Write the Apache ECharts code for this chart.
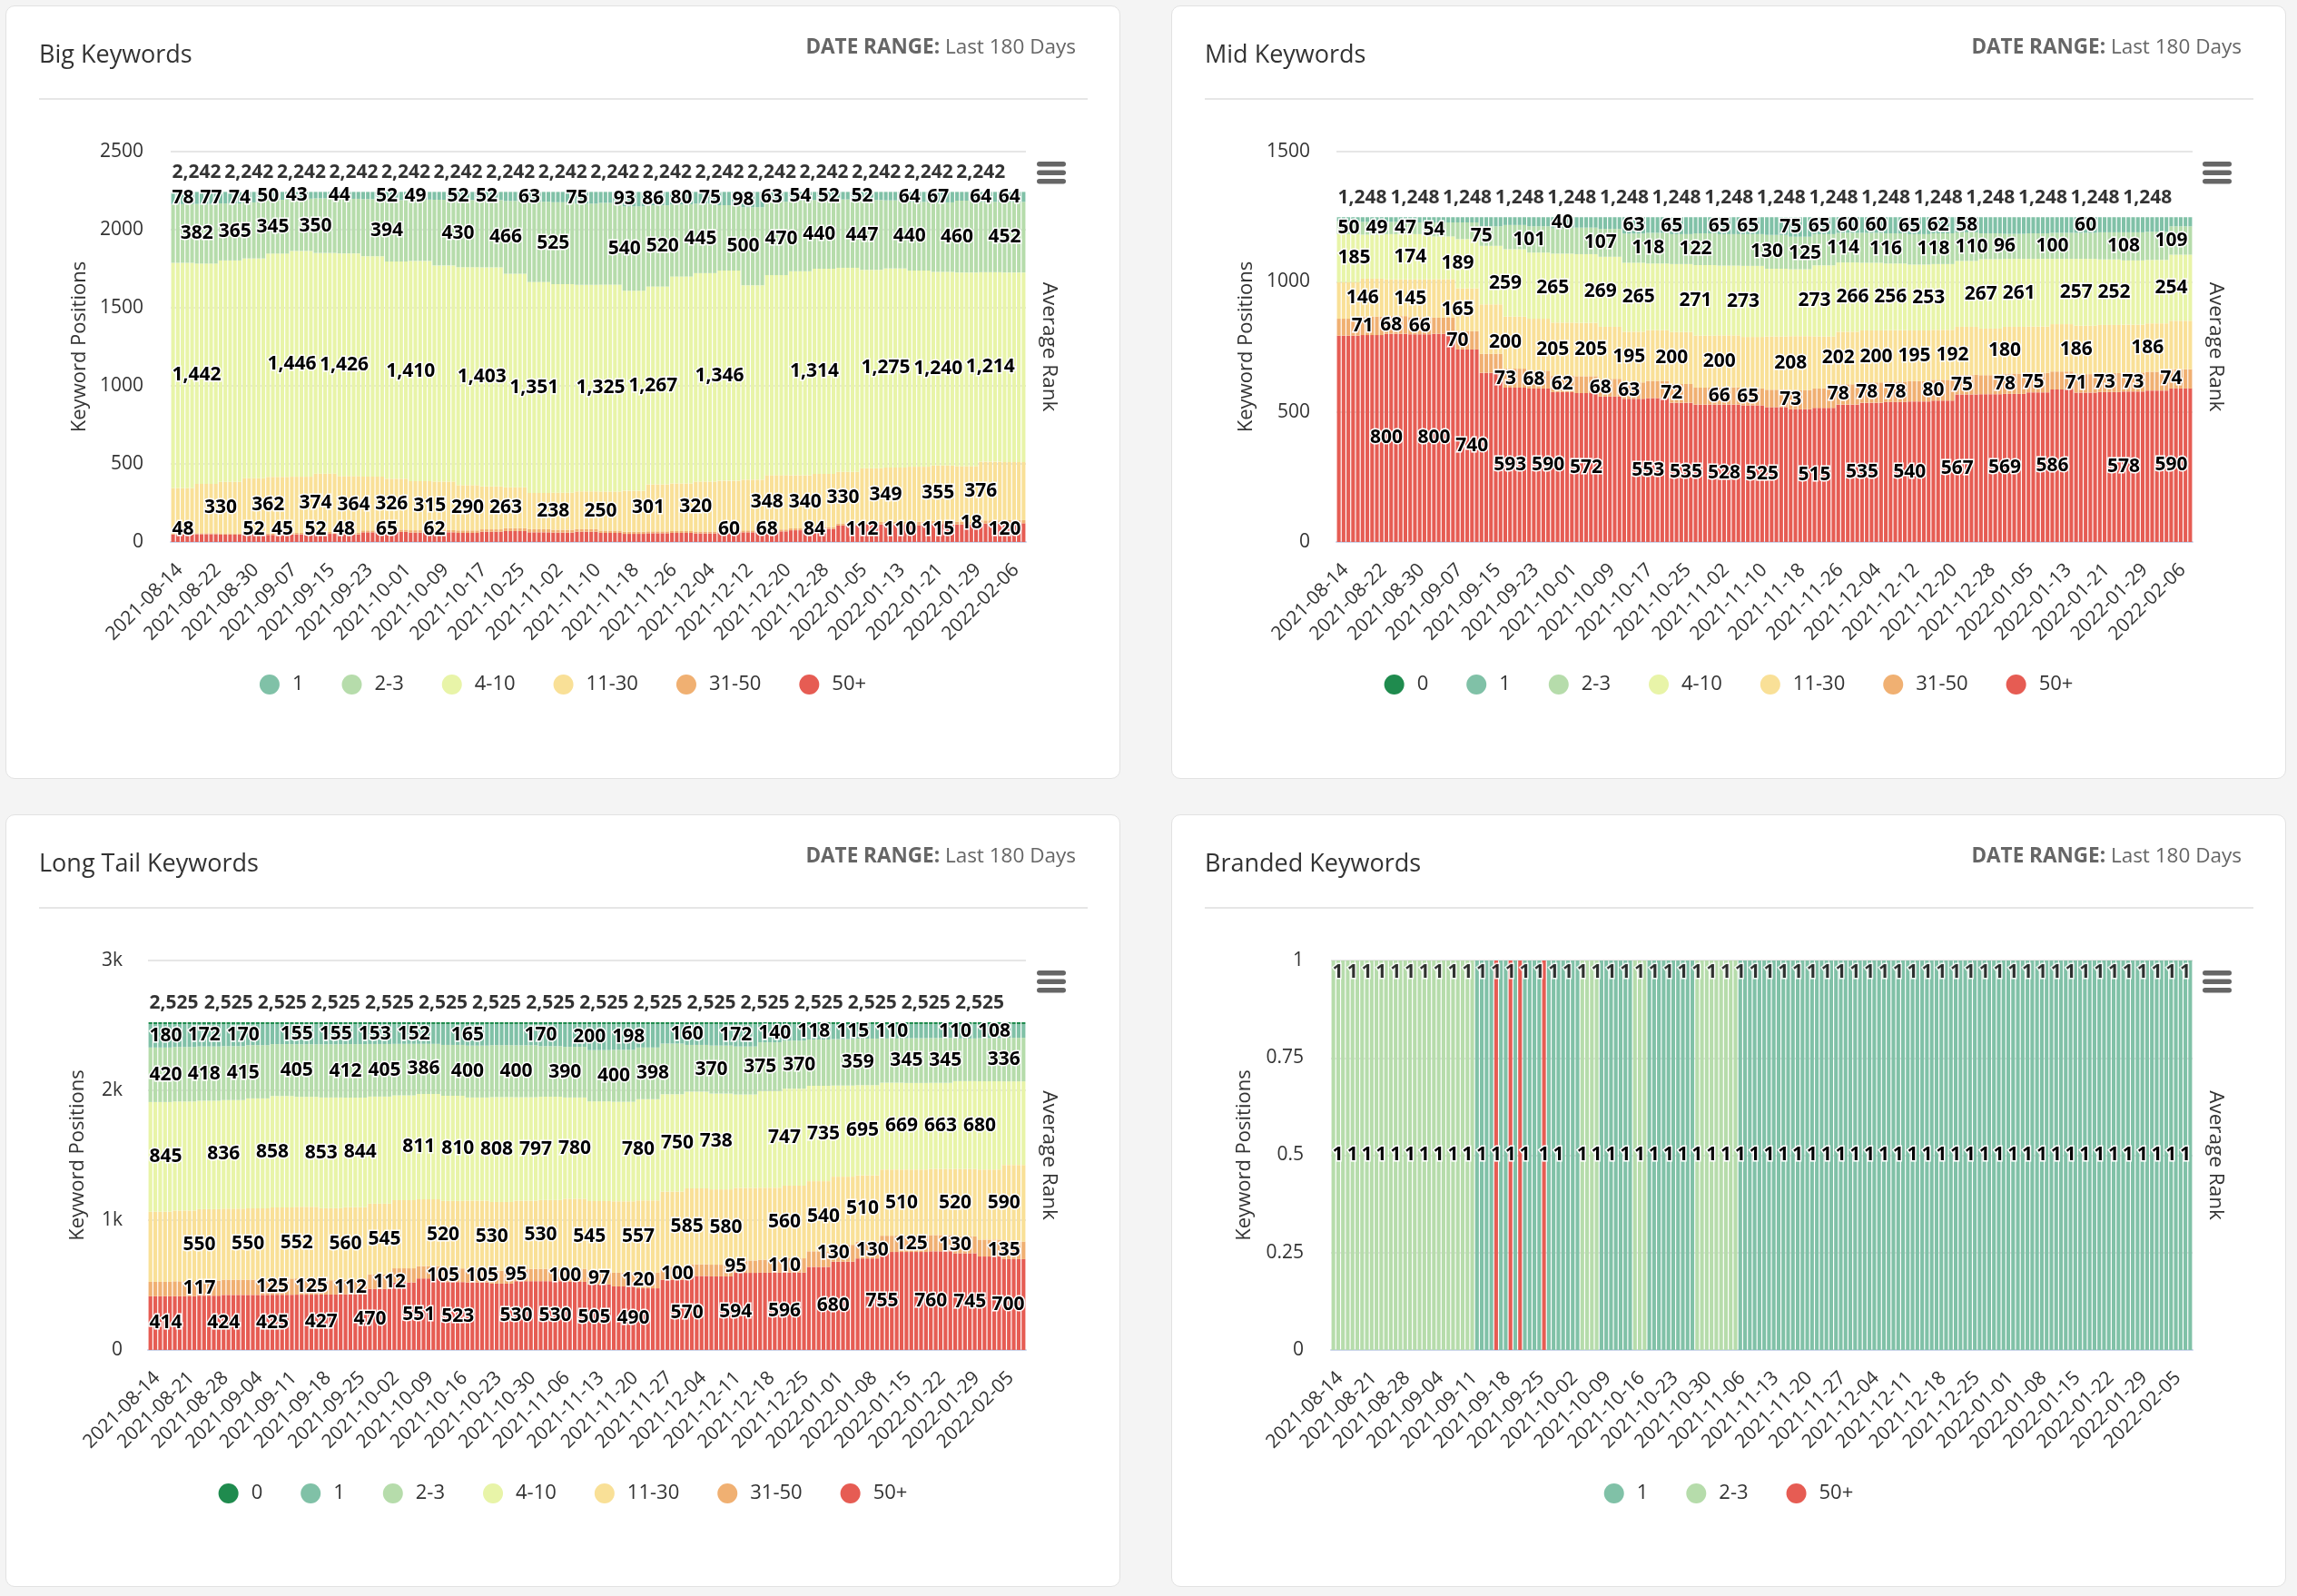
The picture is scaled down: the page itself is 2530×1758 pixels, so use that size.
<!DOCTYPE html>
<html><head><meta charset="utf-8">
<script src="https://cdn.jsdelivr.net/npm/echarts@6/dist/echarts.min.js"></script>
<style>
html,body{margin:0;padding:0;background:#f4f4f4;width:2530px;height:1758px;overflow:hidden;font-family:'Open Sans',sans-serif;}
.panel{position:absolute;background:#fff;border:1.5px solid #e2e2e2;border-radius:10px;box-sizing:border-box;}
.chart{position:absolute;}
</style></head><body>
<div class="panel" style="left:6px;top:6px;width:1228px;height:852px"></div>
<div class="panel" style="left:1290px;top:6px;width:1228px;height:852px"></div>
<div class="panel" style="left:6px;top:897px;width:1228px;height:851px"></div>
<div class="panel" style="left:1290px;top:897px;width:1228px;height:851px"></div>
<div class="chart" id="c1" style="left:6px;top:6px;width:1228px;height:852px"></div>
<div class="chart" id="c2" style="left:1290px;top:6px;width:1228px;height:852px"></div>
<div class="chart" id="c3" style="left:6px;top:897px;width:1228px;height:851px"></div>
<div class="chart" id="c4" style="left:1290px;top:897px;width:1228px;height:851px"></div>
<script>
const categories = [
"2021-08-14","2021-08-15","2021-08-16","2021-08-17","2021-08-18","2021-08-19","2021-08-20","2021-08-21","2021-08-22","2021-08-23","2021-08-24","2021-08-25","2021-08-26","2021-08-27","2021-08-28","2021-08-29","2021-08-30","2021-08-31",
"2021-09-01","2021-09-02","2021-09-03","2021-09-04","2021-09-05","2021-09-06","2021-09-07","2021-09-08","2021-09-09","2021-09-10","2021-09-11","2021-09-12","2021-09-13","2021-09-14","2021-09-15","2021-09-16","2021-09-17","2021-09-18","2021-09-19","2021-09-20","2021-09-21","2021-09-22","2021-09-23","2021-09-24","2021-09-25","2021-09-26","2021-09-27","2021-09-28","2021-09-29","2021-09-30",
"2021-10-01","2021-10-02","2021-10-03","2021-10-04","2021-10-05","2021-10-06","2021-10-07","2021-10-08","2021-10-09","2021-10-10","2021-10-11","2021-10-12","2021-10-13","2021-10-14","2021-10-15","2021-10-16","2021-10-17","2021-10-18","2021-10-19","2021-10-20","2021-10-21","2021-10-22","2021-10-23","2021-10-24","2021-10-25","2021-10-26","2021-10-27","2021-10-28","2021-10-29","2021-10-30","2021-10-31",
"2021-11-01","2021-11-02","2021-11-03","2021-11-04","2021-11-05","2021-11-06","2021-11-07","2021-11-08","2021-11-09","2021-11-10","2021-11-11","2021-11-12","2021-11-13","2021-11-14","2021-11-15","2021-11-16","2021-11-17","2021-11-18","2021-11-19","2021-11-20","2021-11-21","2021-11-22","2021-11-23","2021-11-24","2021-11-25","2021-11-26","2021-11-27","2021-11-28","2021-11-29","2021-11-30",
"2021-12-01","2021-12-02","2021-12-03","2021-12-04","2021-12-05","2021-12-06","2021-12-07","2021-12-08","2021-12-09","2021-12-10","2021-12-11","2021-12-12","2021-12-13","2021-12-14","2021-12-15","2021-12-16","2021-12-17","2021-12-18","2021-12-19","2021-12-20","2021-12-21","2021-12-22","2021-12-23","2021-12-24","2021-12-25","2021-12-26","2021-12-27","2021-12-28","2021-12-29","2021-12-30","2021-12-31",
"2022-01-01","2022-01-02","2022-01-03","2022-01-04","2022-01-05","2022-01-06","2022-01-07","2022-01-08","2022-01-09","2022-01-10","2022-01-11","2022-01-12","2022-01-13","2022-01-14","2022-01-15","2022-01-16","2022-01-17","2022-01-18","2022-01-19","2022-01-20","2022-01-21","2022-01-22","2022-01-23","2022-01-24","2022-01-25","2022-01-26","2022-01-27","2022-01-28","2022-01-29","2022-01-30","2022-01-31",
"2022-02-01","2022-02-02","2022-02-03","2022-02-04","2022-02-05","2022-02-06","2022-02-07","2022-02-08","2022-02-09"];

/* ---------- Big Keywords ---------- */
const bigOne = [78,78,78,78,78,77,77,77,77,77,74,74,74,74,74,67,67,67,67,67,50,50,50,50,50,43,43,43,43,43,41,41,41,41,41,44,44,44,44,44,46,46,46,46,46,52,52,52,52,52,49,49,49,49,49,50,50,50,50,50,52,52,52,52,52,52,52,52,52,52,58,58,58,58,58,63,63,63,63,63,66,66,66,66,66,75,75,75,75,75,70,70,70,70,70,93,93,93,93,93,86,86,86,86,86,80,80,80,80,80,75,75,75,75,75,85,85,85,85,85,98,98,98,98,98,63,63,63,63,63,54,54,54,54,54,52,52,52,52,52,48,48,48,48,48,52,52,52,52,52,54,54,54,54,54,64,64,64,64,64,67,67,67,67,67,56,56,56,56,56,64,64,64,64,64,64,64,64,64,64];
const bigTwo = [376,376,376,376,376,382,382,382,382,382,365,365,365,365,365,359,359,359,359,359,345,345,345,345,345,335,335,335,335,335,350,350,350,350,350,350,350,350,350,350,366,366,366,366,366,394,394,394,394,394,393,393,393,393,393,421,421,421,421,421,430,430,430,430,430,431,431,431,431,431,466,466,466,466,466,514,514,514,514,514,525,525,525,525,525,520,520,520,520,520,524,524,524,524,524,540,540,540,540,540,520,520,520,520,520,462,462,462,462,462,445,445,445,445,445,419,419,419,419,419,500,500,500,500,500,470,470,470,470,470,454,454,454,454,454,440,440,440,440,440,438,438,438,438,438,447,447,447,447,447,436,436,436,436,436,440,440,440,440,440,445,445,445,445,445,460,460,460,460,460,450,450,450,450,450,452,452,452,452,452];
const bigFour = [1442,1442,1442,1442,1442,1411,1411,1411,1411,1411,1418,1418,1418,1418,1418,1407,1407,1407,1407,1407,1430,1430,1430,1430,1430,1446,1446,1446,1446,1446,1413,1413,1413,1413,1413,1426,1426,1426,1426,1426,1411,1411,1411,1411,1411,1391,1391,1391,1391,1391,1410,1410,1410,1410,1410,1384,1384,1384,1384,1384,1396,1396,1396,1396,1396,1403,1403,1403,1403,1403,1367,1367,1367,1367,1367,1351,1351,1351,1351,1351,1335,1335,1335,1335,1335,1323,1323,1323,1323,1323,1325,1325,1325,1325,1325,1281,1281,1281,1281,1281,1267,1267,1267,1267,1267,1325,1325,1325,1325,1325,1335,1335,1335,1335,1335,1346,1346,1346,1346,1346,1245,1245,1245,1245,1245,1281,1281,1281,1281,1281,1307,1307,1307,1307,1307,1314,1314,1314,1314,1314,1307,1307,1307,1307,1307,1270,1270,1270,1270,1270,1275,1275,1275,1275,1275,1256,1256,1256,1256,1256,1240,1240,1240,1240,1240,1240,1240,1240,1240,1240,1214,1214,1214,1214,1214,1214,1214,1214,1214,1214];
const bigEleven = [294,294,294,294,294,316,316,316,316,316,330,330,330,330,330,347,347,347,347,347,362,362,362,362,362,360,360,360,360,360,374,374,374,374,374,364,364,364,364,364,345,345,345,345,345,326,326,326,326,326,315,315,315,315,315,311,311,311,311,311,290,290,290,290,290,275,275,275,275,275,263,263,263,263,263,232,232,232,232,232,238,238,238,238,238,242,242,242,242,242,250,250,250,250,250,262,262,262,262,262,301,301,301,301,301,305,305,305,305,305,320,320,320,320,320,320,320,320,320,320,325,325,325,325,325,348,348,348,348,348,340,340,340,340,340,340,340,340,340,340,330,330,330,330,330,345,345,345,345,345,349,349,349,349,349,352,352,352,352,352,355,355,355,355,355,356,356,356,356,356,376,376,376,376,376,372,372,372,372,372];
const bigThirty = [4,4,4,4,4,6,6,6,6,6,8,8,8,8,8,10,10,10,10,10,10,10,10,10,10,10,10,10,10,10,12,12,12,12,12,10,10,10,10,10,12,12,12,12,12,14,14,14,14,14,15,15,15,15,15,14,14,14,14,14,16,16,16,16,16,15,15,15,15,15,18,18,18,18,18,20,20,20,20,20,18,18,18,18,18,16,16,16,16,16,15,15,15,15,15,14,14,14,14,14,12,12,12,12,12,12,12,12,12,12,12,12,12,12,12,12,12,12,12,12,12,12,12,12,12,12,12,12,12,12,12,12,12,12,12,12,12,12,12,12,14,14,14,14,14,16,16,16,16,16,18,18,18,18,18,22,22,22,22,22,20,20,20,20,20,18,18,18,18,18,20,20,20,20,20,20,20,20,20,20];
const bigFifty = [48,48,48,48,48,50,50,50,50,50,47,47,47,47,47,52,52,52,52,52,45,45,45,45,45,48,48,48,48,48,52,52,52,52,52,48,48,48,48,48,62,62,62,62,62,65,65,65,65,65,60,60,60,60,60,62,62,62,62,62,58,58,58,58,58,66,66,66,66,66,70,70,70,70,70,62,62,62,62,62,60,60,60,60,60,66,66,66,66,66,58,58,58,58,58,52,52,52,52,52,56,56,56,56,56,58,58,58,58,58,55,55,55,55,55,60,60,60,60,60,62,62,62,62,62,68,68,68,68,68,75,75,75,75,75,84,84,84,84,84,105,105,105,105,105,112,112,112,112,112,110,110,110,110,110,108,108,108,108,108,115,115,115,115,115,112,112,112,112,112,118,118,118,118,118,120,120,120,120,120];
const bigTotals = [2242,2242,2242,2242,2242,2242,2242,2242,2242,2242,2242,2242,2242,2242,2242,2242,2242,2242,2242,2242,2242,2242,2242,2242,2242,2242,2242,2242,2242,2242,2242,2242,2242,2242,2242,2242,2242,2242,2242,2242,2242,2242,2242,2242,2242,2242,2242,2242,2242,2242,2242,2242,2242,2242,2242,2242,2242,2242,2242,2242,2242,2242,2242,2242,2242,2242,2242,2242,2242,2242,2242,2242,2242,2242,2242,2242,2242,2242,2242,2242,2242,2242,2242,2242,2242,2242,2242,2242,2242,2242,2242,2242,2242,2242,2242,2242,2242,2242,2242,2242,2242,2242,2242,2242,2242,2242,2242,2242,2242,2242,2242,2242,2242,2242,2242,2242,2242,2242,2242,2242,2242,2242,2242,2242,2242,2242,2242,2242,2242,2242,2242,2242,2242,2242,2242,2242,2242,2242,2242,2242,2242,2242,2242,2242,2242,2242,2242,2242,2242,2242,2242,2242,2242,2242,2242,2242,2242,2242,2242,2242,2242,2242,2242,2242,2242,2242,2242,2242,2242,2242,2242,2242,2242,2242,2242,2242,2242,2242,2242,2242];

/* ---------- Mid Keywords ---------- */
const midZero = [0,0,0,0,0,0,0,0,0,0,0,0,0,0,0,0,0,0,0,0,0,0,0,0,0,0,0,0,0,0,0,0,0,0,0,0,0,0,0,0,0,0,0,0,0,0,0,0,0,0,0,0,0,0,0,0,0,0,0,0,0,0,0,0,0,0,0,0,0,0,0,0,0,0,0,0,0,0,0,0,0,0,0,0,0,0,0,0,0,0,0,0,0,0,0,0,0,0,0,0,0,0,0,0,0,0,0,0,0,0,0,0,0,0,0,0,0,0,0,0,0,0,0,0,0,0,0,0,0,0,0,0,0,0,0,0,0,0,0,0,0,0,0,0,0,0,0,0,0,0,0,0,0,0,0,0,0,0,0,0,0,0,0,0,0,0,0,0,0,0,0,0,0,0,0,0,0,0,0,0];
const midOne = [15,15,15,15,15,18,18,18,18,18,18,18,18,18,18,20,20,20,20,20,20,20,20,20,20,20,20,20,20,20,35,35,35,35,35,30,30,30,30,30,35,35,35,35,35,40,40,40,40,40,40,40,40,40,40,45,45,45,45,45,63,63,63,63,63,60,60,60,60,60,65,65,65,65,65,62,62,62,62,62,65,65,65,65,65,65,65,65,65,65,68,68,68,68,68,75,75,75,75,75,65,65,65,65,65,60,60,60,60,60,60,60,60,60,60,62,62,62,62,62,65,65,65,65,65,62,62,62,62,62,58,58,58,58,58,62,62,62,62,62,64,64,64,64,64,62,62,62,62,62,60,60,60,60,60,60,60,60,60,60,58,58,58,58,58,58,58,58,58,58,56,56,56,56,56,35,35,35,35,35];
const midTwo = [50,50,50,50,50,49,49,49,49,49,47,47,47,47,47,45,45,45,45,45,54,54,54,54,54,64,64,64,64,64,75,75,75,75,75,93,93,93,93,93,101,101,101,101,101,100,100,100,100,100,102,102,102,102,102,107,107,107,107,107,112,112,112,112,112,118,118,118,118,118,115,115,115,115,115,122,122,122,122,122,121,121,121,121,121,122,122,122,122,122,130,130,130,130,130,125,125,125,125,125,120,120,120,120,120,114,114,114,114,114,115,115,115,115,115,116,116,116,116,116,117,117,117,117,117,118,118,118,118,118,110,110,110,110,110,99,99,99,99,99,96,96,96,96,96,98,98,98,98,98,100,100,100,100,100,100,100,100,100,100,104,104,104,104,104,108,108,108,108,108,108,108,108,108,108,109,109,109,109,109];
const midFour = [185,185,185,185,185,169,169,169,169,169,174,174,174,174,174,174,174,174,174,174,164,164,164,164,164,189,189,189,189,189,225,225,225,225,225,259,259,259,259,259,254,254,254,254,254,265,265,265,265,265,264,264,264,264,264,269,269,269,269,269,265,265,265,265,265,256,256,256,256,256,261,261,261,261,261,271,271,271,271,271,268,268,268,268,268,273,273,273,273,273,260,260,260,260,260,257,257,257,257,257,273,273,273,273,273,266,266,266,266,266,260,260,260,260,260,256,256,256,256,256,253,253,253,253,253,253,253,253,253,253,253,253,253,253,253,267,267,267,267,267,261,261,261,261,261,260,260,260,260,260,251,251,251,251,251,257,257,257,257,257,252,252,252,252,252,247,247,247,247,247,244,244,244,244,244,254,254,254,254,254];
const midEleven = [140,140,140,140,140,146,146,146,146,146,141,141,141,141,141,145,145,145,145,145,148,148,148,148,148,165,165,165,165,165,190,190,190,190,190,200,200,200,200,200,200,200,200,200,200,205,205,205,205,205,205,205,205,205,205,200,200,200,200,200,195,195,195,195,195,195,195,195,195,195,200,200,200,200,200,200,200,200,200,200,200,200,200,200,200,198,198,198,198,198,205,205,205,205,205,208,208,208,208,208,200,200,200,200,200,202,202,202,202,202,200,200,200,200,200,198,198,198,198,198,195,195,195,195,195,192,192,192,192,192,185,185,185,185,185,179,179,179,179,179,180,180,180,180,180,178,178,178,178,178,182,182,182,182,182,186,186,186,186,186,185,185,185,185,185,184,184,184,184,184,186,186,186,186,186,186,186,186,186,186];
const midThirty = [65,65,65,65,65,71,71,71,71,71,68,68,68,68,68,66,66,66,66,66,62,62,62,62,62,70,70,70,70,70,73,73,73,73,73,73,73,73,73,73,68,68,68,68,68,62,62,62,62,62,65,65,65,65,65,68,68,68,68,68,63,63,63,63,63,66,66,66,66,66,72,72,72,72,72,65,65,65,65,65,66,66,66,66,66,65,65,65,65,65,67,67,67,67,67,73,73,73,73,73,75,75,75,75,75,78,78,78,78,78,78,78,78,78,78,78,78,78,78,78,78,78,78,78,78,80,80,80,80,80,75,75,75,75,75,73,73,73,73,73,78,78,78,78,78,75,75,75,75,75,69,69,69,69,69,71,71,71,71,71,73,73,73,73,73,73,73,73,73,73,72,72,72,72,72,74,74,74,74,74];
const midFifty = [793,793,793,793,793,795,795,795,795,795,800,800,800,800,800,798,798,798,798,798,800,800,800,800,800,740,740,740,740,740,650,650,650,650,650,593,593,593,593,593,590,590,590,590,590,576,576,576,576,576,572,572,572,572,572,559,559,559,559,559,550,550,550,550,550,553,553,553,553,553,535,535,535,535,535,528,528,528,528,528,528,528,528,528,528,525,525,525,525,525,518,518,518,518,518,510,510,510,510,510,515,515,515,515,515,528,528,528,528,528,535,535,535,535,535,538,538,538,538,538,540,540,540,540,540,543,543,543,543,543,567,567,567,567,567,568,568,568,568,568,569,569,569,569,569,575,575,575,575,575,586,586,586,586,586,574,574,574,574,574,576,576,576,576,576,578,578,578,578,578,582,582,582,582,582,590,590,590,590,590];
const midTotals = [1248,1248,1248,1248,1248,1248,1248,1248,1248,1248,1248,1248,1248,1248,1248,1248,1248,1248,1248,1248,1248,1248,1248,1248,1248,1248,1248,1248,1248,1248,1248,1248,1248,1248,1248,1248,1248,1248,1248,1248,1248,1248,1248,1248,1248,1248,1248,1248,1248,1248,1248,1248,1248,1248,1248,1248,1248,1248,1248,1248,1248,1248,1248,1248,1248,1248,1248,1248,1248,1248,1248,1248,1248,1248,1248,1248,1248,1248,1248,1248,1248,1248,1248,1248,1248,1248,1248,1248,1248,1248,1248,1248,1248,1248,1248,1248,1248,1248,1248,1248,1248,1248,1248,1248,1248,1248,1248,1248,1248,1248,1248,1248,1248,1248,1248,1248,1248,1248,1248,1248,1248,1248,1248,1248,1248,1248,1248,1248,1248,1248,1248,1248,1248,1248,1248,1248,1248,1248,1248,1248,1248,1248,1248,1248,1248,1248,1248,1248,1248,1248,1248,1248,1248,1248,1248,1248,1248,1248,1248,1248,1248,1248,1248,1248,1248,1248,1248,1248,1248,1248,1248,1248,1248,1248,1248,1248,1248,1248,1248,1248];

/* ---------- Long Tail Keywords ---------- */
const longZero = [15,15,15,15,15,15,15,15,15,15,15,15,15,15,15,15,15,15,15,15,15,15,15,15,15,15,15,15,15,15,15,15,15,15,15,15,15,15,15,15,15,15,15,15,15,15,15,15,15,15,15,15,15,15,15,15,15,15,15,15,15,15,15,15,15,15,15,15,15,15,15,15,15,15,15,15,15,15,15,15,15,15,15,15,15,15,15,15,15,15,15,15,15,15,15,15,15,15,15,15,15,15,15,15,15,15,15,15,15,15,15,15,15,15,15,15,15,15,15,15,15,15,15,15,15,15,15,15,15,15,15,15,15,15,15,15,15,15,15,15,15,15,15,15,15,15,15,15,15,15,15,15,15,15,15,15,15,15,15,15,15,15,15,15,15,15,15,15,15,15,15,15,15,15,15,15,15,15,15,15];
const longOne = [180,180,180,180,180,176,176,176,176,176,172,172,172,172,172,170,170,170,170,170,162,162,162,162,162,154,154,154,154,154,155,155,155,155,155,155,155,155,155,155,154,154,154,154,154,153,153,153,153,153,152,152,152,152,152,152,152,152,152,152,160,160,160,160,160,165,165,165,165,165,162,162,162,162,162,163,163,163,163,163,170,170,170,170,170,175,175,175,175,175,200,200,200,200,200,198,198,198,198,198,180,180,180,180,180,150,150,150,150,150,160,160,160,160,160,165,165,165,165,165,172,172,172,172,172,140,140,140,140,140,127,127,127,127,127,118,118,118,118,118,115,115,115,115,115,111,111,111,111,111,110,110,110,110,110,108,108,108,108,108,107,107,107,107,107,110,110,110,110,110,108,108,108,108,108,105,105,105,105,105];
const longTwo = [420,420,420,420,420,420,420,420,420,420,418,418,418,418,418,415,415,415,415,415,410,410,410,410,410,400,400,400,400,400,405,405,405,405,405,410,410,410,410,410,412,412,412,412,412,405,405,405,405,405,397,397,397,397,397,386,386,386,386,386,392,392,392,392,392,400,400,400,400,400,400,400,400,400,400,400,400,400,400,400,389,389,389,389,389,390,390,390,390,390,395,395,395,395,395,400,400,400,400,400,398,398,398,398,398,390,390,390,390,390,360,360,360,360,360,370,370,370,370,370,370,370,370,370,370,375,375,375,375,375,370,370,370,370,370,357,357,357,357,357,358,358,358,358,358,359,359,359,359,359,341,341,341,341,341,345,345,345,345,345,345,345,345,345,345,329,329,329,329,329,332,332,332,332,332,336,336,336,336,336];
const longFour = [845,845,845,845,845,840,840,840,840,840,835,835,835,835,835,836,836,836,836,836,847,847,847,847,847,858,858,858,858,858,847,847,847,847,847,853,853,853,853,853,844,844,844,844,844,825,825,825,825,825,807,807,807,807,807,811,811,811,811,811,810,810,810,810,810,795,795,795,795,795,808,808,808,808,808,797,797,797,797,797,796,796,796,796,796,780,780,780,780,780,768,768,768,768,768,767,767,767,767,767,780,780,780,780,780,750,750,750,750,750,745,745,745,745,745,738,738,738,738,738,719,719,719,719,719,745,745,745,745,745,747,747,747,747,747,735,735,735,735,735,702,702,702,702,702,695,695,695,695,695,669,669,669,669,669,667,667,667,667,667,663,663,663,663,663,676,676,676,676,676,680,680,680,680,680,644,644,644,644,644];
const longEleven = [540,540,540,540,540,545,545,545,545,545,550,550,550,550,550,548,548,548,548,548,550,550,550,550,550,548,548,548,548,548,552,552,552,552,552,555,555,555,555,555,560,560,560,560,560,545,545,545,545,545,525,525,525,525,525,515,515,515,515,515,520,520,520,520,520,525,525,525,525,525,530,530,530,530,530,525,525,525,525,525,530,530,530,530,530,540,540,540,540,540,545,545,545,545,545,550,550,550,550,550,557,557,557,557,557,580,580,580,580,580,585,585,585,585,585,580,580,580,580,580,560,560,560,560,560,555,555,555,555,555,560,560,560,560,560,540,540,540,540,540,525,525,525,525,525,510,510,510,510,510,510,510,510,510,510,510,510,510,510,510,510,510,510,510,510,520,520,520,520,520,540,540,540,540,540,590,590,590,590,590];
const longThirty = [111,111,111,111,111,115,115,115,115,115,117,117,117,117,117,117,117,117,117,117,117,117,117,117,117,125,125,125,125,125,125,125,125,125,125,110,110,110,110,110,112,112,112,112,112,112,112,112,112,112,109,109,109,109,109,95,95,95,95,95,105,105,105,105,105,105,105,105,105,105,99,99,99,99,99,95,95,95,95,95,95,95,95,95,95,100,100,100,100,100,97,97,97,97,97,105,105,105,105,105,120,120,120,120,120,100,100,100,100,100,90,90,90,90,90,90,90,90,90,90,95,95,95,95,95,100,100,100,100,100,110,110,110,110,110,120,120,120,120,120,130,130,130,130,130,130,130,130,130,130,125,125,125,125,125,125,125,125,125,125,125,125,125,125,125,130,130,130,130,130,130,130,130,130,130,135,135,135,135,135];
const longFifty = [414,414,414,414,414,414,414,414,414,414,418,418,418,418,418,424,424,424,424,424,424,424,424,424,424,425,425,425,425,425,426,426,426,426,426,427,427,427,427,427,428,428,428,428,428,470,470,470,470,470,520,520,520,520,520,551,551,551,551,551,523,523,523,523,523,520,520,520,520,520,511,511,511,511,511,530,530,530,530,530,530,530,530,530,530,525,525,525,525,525,505,505,505,505,505,490,490,490,490,490,475,475,475,475,475,540,540,540,540,540,570,570,570,570,570,567,567,567,567,567,594,594,594,594,594,595,595,595,595,595,596,596,596,596,596,640,640,640,640,640,680,680,680,680,680,705,705,705,705,705,755,755,755,755,755,755,755,755,755,755,760,760,760,760,760,745,745,745,745,745,720,720,720,720,720,700,700,700,700,700];
const longTotals = [2525,2525,2525,2525,2525,2525,2525,2525,2525,2525,2525,2525,2525,2525,2525,2525,2525,2525,2525,2525,2525,2525,2525,2525,2525,2525,2525,2525,2525,2525,2525,2525,2525,2525,2525,2525,2525,2525,2525,2525,2525,2525,2525,2525,2525,2525,2525,2525,2525,2525,2525,2525,2525,2525,2525,2525,2525,2525,2525,2525,2525,2525,2525,2525,2525,2525,2525,2525,2525,2525,2525,2525,2525,2525,2525,2525,2525,2525,2525,2525,2525,2525,2525,2525,2525,2525,2525,2525,2525,2525,2525,2525,2525,2525,2525,2525,2525,2525,2525,2525,2525,2525,2525,2525,2525,2525,2525,2525,2525,2525,2525,2525,2525,2525,2525,2525,2525,2525,2525,2525,2525,2525,2525,2525,2525,2525,2525,2525,2525,2525,2525,2525,2525,2525,2525,2525,2525,2525,2525,2525,2525,2525,2525,2525,2525,2525,2525,2525,2525,2525,2525,2525,2525,2525,2525,2525,2525,2525,2525,2525,2525,2525,2525,2525,2525,2525,2525,2525,2525,2525,2525,2525,2525,2525,2525,2525,2525,2525,2525,2525];

/* ---------- Branded Keywords ---------- */
const brandOne = [0,0,0,0,0,0,0,0,0,0,0,0,0,0,0,0,0,0,0,0,0,0,0,0,0,0,0,0,0,0,1,1,1,1,0,1,1,0,1,0,1,1,1,1,0,1,1,1,1,1,1,1,0,0,0,0,1,1,1,1,1,1,1,0,0,0,1,1,1,1,1,1,1,1,1,1,0,0,0,0,0,0,0,0,0,1,1,1,1,1,1,1,1,1,1,1,1,1,1,1,1,1,1,1,1,1,1,1,1,1,1,1,1,1,1,1,1,1,1,1,1,1,1,1,1,1,1,1,1,1,1,1,1,1,1,1,1,1,1,1,1,1,1,1,1,1,1,1,1,1,1,1,1,1,1,1,1,1,1,1,1,1,1,1,1,1,1,1,1,1,1,1,1,1,1,1,1,1,1,1];
const brandTwo = [1,1,1,1,1,1,1,1,1,1,1,1,1,1,1,1,1,1,1,1,1,1,1,1,1,1,1,1,1,1,0,0,0,0,0,0,0,0,0,0,0,0,0,0,0,0,0,0,0,0,0,0,1,1,1,1,0,0,0,0,0,0,0,1,1,1,0,0,0,0,0,0,0,0,0,0,1,1,1,1,1,1,1,1,1,0,0,0,0,0,0,0,0,0,0,0,0,0,0,0,0,0,0,0,0,0,0,0,0,0,0,0,0,0,0,0,0,0,0,0,0,0,0,0,0,0,0,0,0,0,0,0,0,0,0,0,0,0,0,0,0,0,0,0,0,0,0,0,0,0,0,0,0,0,0,0,0,0,0,0,0,0,0,0,0,0,0,0,0,0,0,0,0,0,0,0];
const brandFifty = [0,0,0,0,0,0,0,0,0,0,0,0,0,0,0,0,0,0,0,0,0,0,0,0,0,0,0,0,0,0,0,0,0,0,1,0,0,1,0,1,0,0,0,0,1,0,0,0,0,0,0,0,0,0,0,0,0,0,0,0,0,0,0,0,0,0,0,0,0,0,0,0,0,0,0,0,0,0,0,0,0,0,0,0,0,0,0,0,0,0,0,0,0,0,0,0,0,0,0,0,0,0,0,0,0,0,0,0,0,0,0,0,0,0,0,0,0,0,0,0,0,0,0,0,0,0,0,0,0,0,0,0,0,0,0,0,0,0,0,0,0,0,0,0,0,0,0,0,0,0,0,0,0,0,0,0,0,0,0,0,0,0,0,0,0,0,0,0,0,0,0,0,0,0,0,0,0,0,0,0];
const brandTotals = [1,1,1,1,1,1,1,1,1,1,1,1,1,1,1,1,1,1,1,1,1,1,1,1,1,1,1,1,1,1,1,1,1,1,1,1,1,1,1,1,1,1,1,1,1,1,1,1,1,1,1,1,1,1,1,1,1,1,1,1,1,1,1,1,1,1,1,1,1,1,1,1,1,1,1,1,1,1,1,1,1,1,1,1,1,1,1,1,1,1,1,1,1,1,1,1,1,1,1,1,1,1,1,1,1,1,1,1,1,1,1,1,1,1,1,1,1,1,1,1,1,1,1,1,1,1,1,1,1,1,1,1,1,1,1,1,1,1,1,1,1,1,1,1,1,1,1,1,1,1,1,1,1,1,1,1,1,1,1,1,1,1,1,1,1,1,1,1,1,1,1,1,1,1,1,1,1,1,1,1];

const COLORS = {'0':'#1f8b4e','1':'#80c1a7','2-3':'#b6dcab','4-10':'#e8f4a8','11-30':'#f9e097','31-50':'#f0b072','50+':'#e65c53'};
const FONT = "'Open Sans', sans-serif";

function fmt(v){ return Number(v).toLocaleString('en-US'); }

function build(cfg){
  const gl = cfg.grid[0], gr = cfg.grid[0] + cfg.grid[2], gb = cfg.grid[1] + cfg.grid[3];
  const labelBase = {fontSize:21, fontWeight:'bold', fontFamily:FONT, color:'#000', textBorderColor:'#fff', textBorderWidth:3};
  // keep labels inside the plot area horizontally (and above the x axis)
  const justify = function(p){
    const r = p.labelRect; let dx = 0, dy = 0;
    if (r.x < gl) dx = gl - r.x;
    else if (r.x + r.width > gr) dx = gr - (r.x + r.width);
    if (r.y + r.height > gb) dy = gb - (r.y + r.height);
    return {hideOverlap:true, dx:dx, dy:dy};
  };
  const order = ['50+','31-50','11-30','4-10','2-3','1','0'].filter(n => cfg.data[n]);
  const series = order.map(n => {
    const lab = Object.assign({show: n !== '0', position:'inside', formatter:p => fmt(p.value)}, labelBase);
    if (n === '50+' || n === '31-50') lab.lineHeight = 28;
    return {
      name:n, type:'bar', stack:'s', barCategoryGap:'22%',
      data: cfg.data[n].map(v => v === 0 ? '-' : v),
      itemStyle:{color:COLORS[n]},
      label: lab,
      labelLayout: justify,
      emphasis:{disabled:true}
    };
  });
  series.push({
    name:'Total', type:'scatter', data:cfg.totals, symbolSize:1,
    itemStyle:{color:'rgba(0,0,0,0)'}, silent:true, z:5,
    label: Object.assign({show:true, position:cfg.totalPos || 'top', distance:cfg.totalDist || 10, formatter:p => fmt(p.value)}, labelBase),
    labelLayout: justify
  });
  const legendNames = ['0','1','2-3','4-10','11-30','31-50','50+'].filter(n => cfg.data[n]);
  return {
    animation:false,
    textStyle:{fontFamily:FONT},
    title:[
      {text:cfg.title, left:32, top:32, textStyle:{fontSize:27, fontWeight:'normal', color:'#333', fontFamily:FONT, lineHeight:36}},
      {text:'{b|DATE RANGE:} Last 180 Days', right:44, top:27, textStyle:{fontSize:22.5, fontWeight:'normal', color:'#666', fontFamily:FONT, lineHeight:30, rich:{b:{fontSize:22.5, fontWeight:'bold', color:'#666', fontFamily:FONT}}}}
    ],
    graphic:[
      {type:'rect', shape:{x:37, y:102, width:1155, height:2}, style:{fill:'#e6e6e6'}, silent:true},
      {type:'rect', shape:{x:1136, y:172, width:32, height:5.5, r:2.75}, style:{fill:'#666'}, silent:true},
      {type:'rect', shape:{x:1136, y:181.5, width:32, height:5.5, r:2.75}, style:{fill:'#666'}, silent:true},
      {type:'rect', shape:{x:1136, y:191, width:32, height:5.5, r:2.75}, style:{fill:'#666'}, silent:true}
    ],
    legend:{
      data:legendNames, top:732, left:'center', icon:'circle', itemWidth:22, itemHeight:22, itemGap:42,
      textStyle:{fontSize:22, color:'#333', fontFamily:FONT, padding:[0,0,0,9]}
    },
    grid:{left:cfg.grid[0], top:cfg.grid[1], width:cfg.grid[2], height:cfg.grid[3]},
    xAxis:{
      type:'category', data:categories,
      axisTick:{show:false},
      axisLine:{lineStyle:{color:'#ccd6eb', width:2}},
      axisLabel:{interval:cfg.labelInterval, rotate:45, fontSize:21, color:'#333', fontFamily:FONT, margin:20, verticalAlign:'top'}
    },
    yAxis:[
      {type:'value', min:0, max:cfg.yMax, interval:cfg.yInterval,
       axisLabel:{fontSize:21, color:'#333', fontFamily:FONT, margin:cfg.yMargin, formatter:cfg.yFormatter || (v => String(v))},
       splitLine:{lineStyle:{color:'#e6e6e6', width:2}},
       name:'Keyword Positions', nameLocation:'middle', nameGap:cfg.nameGap,
       nameTextStyle:{fontSize:22, color:'#333', fontFamily:FONT}},
      {type:'value', position:'right', min:0, max:1, name:'Average Rank', nameLocation:'middle', nameRotate:-90, nameGap:14,
       nameTextStyle:{fontSize:22.5, color:'#333', fontFamily:FONT},
       axisLabel:{show:false}, axisLine:{show:false}, axisTick:{show:false}, splitLine:{show:false}}
    ],
    series:series
  };
}

const charts = [
  ['c1', {title:'Big Keywords', grid:[182,161,942,430], yMax:2500, yInterval:500, yMargin:30, nameGap:88, labelInterval:7,
          data:{'1':bigOne,'2-3':bigTwo,'4-10':bigFour,'11-30':bigEleven,'31-50':bigThirty,'50+':bigFifty}, totals:bigTotals}],
  ['c2', {title:'Mid Keywords', grid:[182,161,943,430], yMax:1500, yInterval:500, yMargin:29, nameGap:88, labelInterval:7,
          data:{'0':midZero,'1':midOne,'2-3':midTwo,'4-10':midFour,'11-30':midEleven,'31-50':midThirty,'50+':midFifty}, totals:midTotals}],
  ['c3', {title:'Long Tail Keywords', grid:[157,161,967,429], yMax:3000, yInterval:1000, yMargin:28, nameGap:66, labelInterval:6,
          yFormatter:v => v === 0 ? '0' : (v/1000)+'k',
          data:{'0':longZero,'1':longOne,'2-3':longTwo,'4-10':longFour,'11-30':longEleven,'31-50':longThirty,'50+':longFifty}, totals:longTotals}],
  ['c4', {title:'Branded Keywords', grid:[176,161,949,429], yMax:1, yInterval:0.25, yMargin:30, nameGap:84, labelInterval:6,
          data:{'1':brandOne,'2-3':brandTwo,'50+':brandFifty}, totals:brandTotals, totalPos:'bottom', totalDist:2}]
];
charts.forEach(([id, cfg]) => {
  const c = echarts.init(document.getElementById(id), null, {renderer:'canvas'});
  c.setOption(build(cfg));
});
</script>
</body></html>
